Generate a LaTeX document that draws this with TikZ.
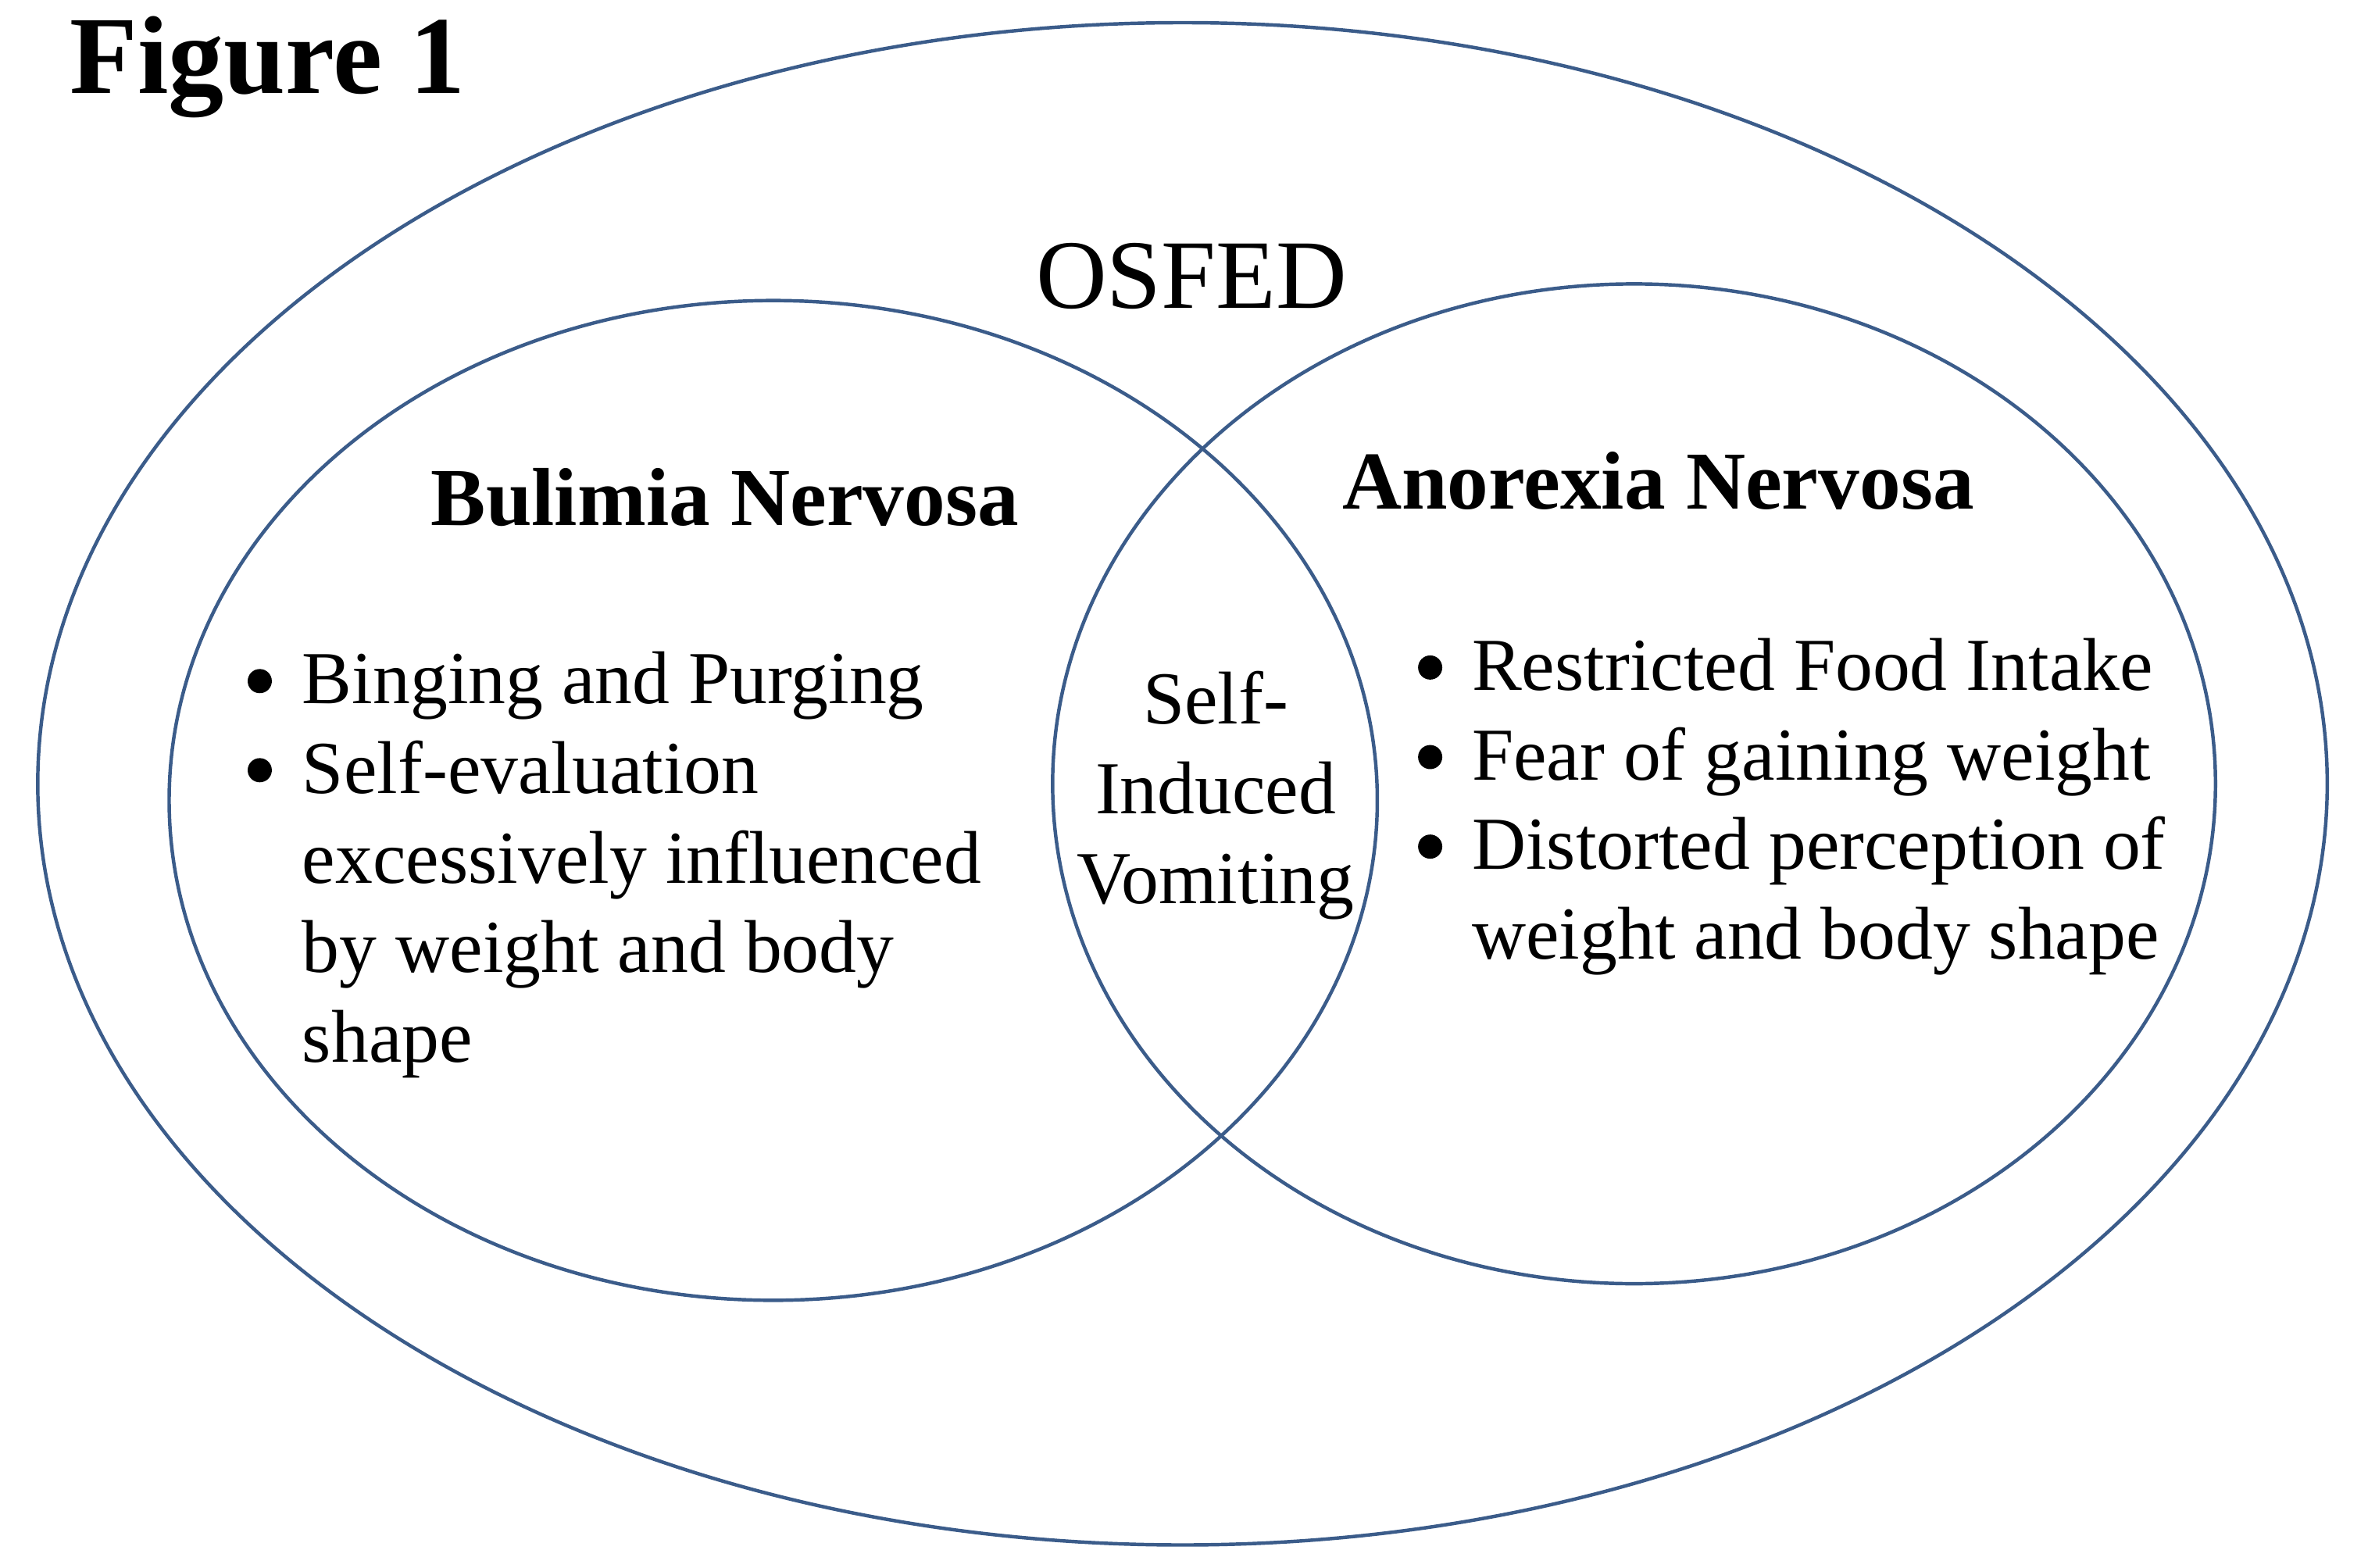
\documentclass[tikz,border=0pt]{standalone}
\usepackage{fontspec}
\setmainfont{Liberation Serif}
\definecolor{vennblue}{RGB}{59,92,138}
\begin{document}
\begin{tikzpicture}[x=1pt,y=-1pt,
  venn/.style={draw=vennblue,line width=2.3pt},
  body/.style={font=\fontsize{49.5}{59.3}\selectfont,inner sep=0pt,anchor=base west},
  mid/.style={font=\fontsize{49.5}{59.3}\selectfont,inner sep=0pt,anchor=base},
  head/.style={font=\fontsize{54.5}{60}\selectfont\bfseries,inner sep=0pt,anchor=base},
  dot/.style={fill=black,draw=none}]
\useasboundingbox (0,0) rectangle (1568,1038);
\draw[venn] (783,519) ellipse [x radius=758pt,y radius=504pt];
\draw[venn] (512,530) ellipse [x radius=400pt,y radius=331pt];
\draw[venn] (1082,519) ellipse [x radius=385pt,y radius=331pt];
\node[inner sep=0pt,anchor=base west,font=\fontsize{73.5}{80}\selectfont\bfseries] (fig) at (46,62) {Figure 1};
\node[inner sep=0pt,anchor=base,font=\fontsize{65}{70}\selectfont] (osfed) at (789,204) {OSFED};
\node[head] (bn) at (480,348) {Bulimia Nervosa};
\node[head] (an) at (1098,337) {Anorexia Nervosa};
% left bullets
\fill[dot] (172,451) circle (8pt);
\fill[dot] (172,510) circle (8pt);
\node[body] (b1) at (200,466) {Binging and Purging};
\node[body] (b2) at (200,525.3) {Self-evaluation};
\node[body] (b3) at (200,584.6) {excessively influenced};
\node[body] (b4) at (200,643.9) {by weight and body};
\node[body] (b5) at (200,703.2) {shape};
% center
\node[mid] (c1) at (805,479.5) {Self-};
\node[mid] (c2) at (805,538.8) {Induced};
\node[mid] (c3) at (805,598.1) {Vomiting};
% right bullets
\fill[dot] (947,442) circle (8pt);
\fill[dot] (947,501.3) circle (8pt);
\fill[dot] (947,560.6) circle (8pt);
\node[body] (r1) at (974.5,457) {Restricted Food Intake};
\node[body] (r2) at (974.5,516.3) {Fear of gaining weight};
\node[body] (r3) at (974.5,575.6) {Distorted perception of};
\node[body] (r4) at (974.5,634.9) {weight and body shape};
\end{tikzpicture}
\end{document}
